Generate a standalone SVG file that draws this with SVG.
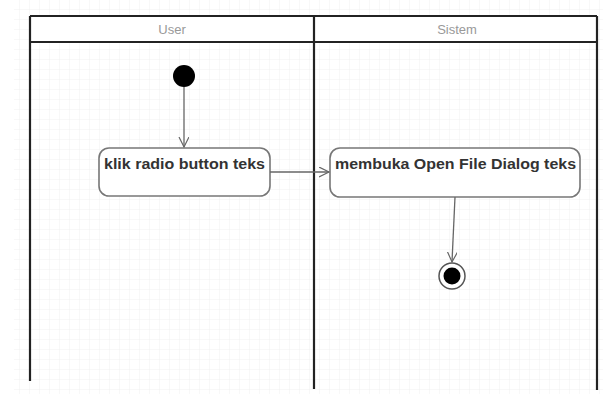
<svg xmlns="http://www.w3.org/2000/svg" width="603" height="394" viewBox="0 0 603 394">
<defs>
<pattern id="grid" width="10" height="10" patternUnits="userSpaceOnUse">
<path d="M10 0V10M0 10H10" fill="none" stroke="#f1f1f1" stroke-width="1"/>
</pattern>
<marker id="open" markerWidth="12" markerHeight="12" refX="10" refY="5" orient="auto" markerUnits="userSpaceOnUse">
<path d="M0 0L10 5L0 10" fill="none" stroke="#666" stroke-width="1.2"/>
</marker>
</defs>
<style>
.lane{stroke:#222;stroke-width:2.2;fill:none}
.hdr{font-family:"Liberation Sans",Arial,sans-serif;font-size:13px;fill:#999;text-anchor:middle}
.act{fill:#fff;stroke:#777;stroke-width:1.6}
.lbl{font-family:"Liberation Sans",Arial,sans-serif;font-size:14.5px;font-weight:bold;fill:#333}
.con{stroke:#666;stroke-width:1.3;fill:none}
</style>
<rect width="603" height="394" fill="#fff"/>
<rect x="14" y="0" width="589" height="394" fill="url(#grid)"/>
<g id="swimlanes">
<rect x="30" y="16" width="567" height="26" fill="#fff"/>
<path class="lane" d="M30 16H597M30 42H597M30 16V381M314 16V389M597 16V390"/>
<text class="hdr" x="172" y="34">User</text>
<text class="hdr" x="457" y="34">Sistem</text>
</g>
<g id="start"><circle cx="184" cy="76" r="11" fill="#000"/></g>
<g id="act1">
<rect class="act" x="99" y="148" width="171" height="48" rx="10"/>
<text class="lbl" x="104" y="169" textLength="161" lengthAdjust="spacingAndGlyphs">klik radio button teks</text>
</g>
<g id="act2">
<rect class="act" x="330" y="148" width="250" height="49" rx="10"/>
<text class="lbl" x="335" y="169" textLength="241" lengthAdjust="spacingAndGlyphs">membuka Open File Dialog teks</text>
</g>
<g id="end">
<circle cx="452" cy="276" r="13" fill="#fff" stroke="#555" stroke-width="1.5"/>
<circle cx="452" cy="276" r="8.5" fill="#000"/>
</g>
<g id="connectors">
<path class="con" d="M184 87V147" marker-end="url(#open)"/>
<path class="con" d="M270 172H329" marker-end="url(#open)"/>
<path class="con" d="M455 197L452 262" marker-end="url(#open)"/>
</g>
</svg>
